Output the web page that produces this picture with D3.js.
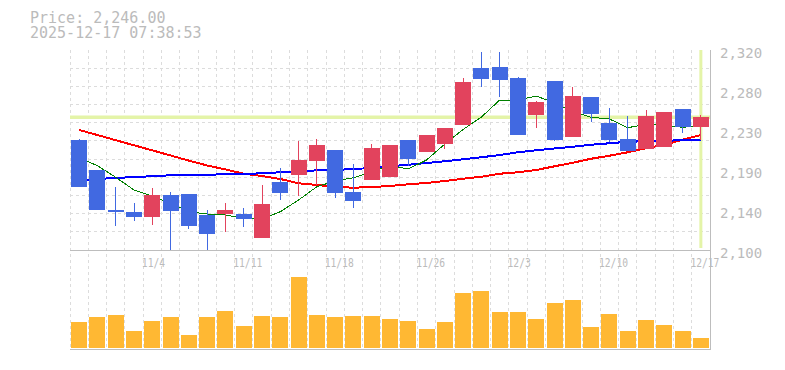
<!DOCTYPE html>
<html>
<head>
<meta charset="utf-8">
<script src="https://cdn.jsdelivr.net/npm/d3@7"></script>
<style>
  body { margin: 0; background: #fff; }
  svg { display: block; }
  .lbl { font-family: "DejaVu Sans Mono", "Liberation Mono", monospace; fill: #bbbbbb; }
</style>
</head>
<body>
<div class="visualization"></div>
<script>
// daily candles, 2025-10-28 .. 2025-12-17
const dates = ["10/28","10/29","10/30","10/31","11/4","11/5","11/6","11/7","11/10","11/11",
  "11/12","11/13","11/14","11/17","11/18","11/19","11/20","11/21","11/25","11/26",
  "11/27","11/28","12/1","12/2","12/3","12/4","12/5","12/8","12/9","12/10",
  "12/11","12/12","12/15","12/16","12/17"];
const opens = [2221,2188,2144,2141.8,2136.6,2160.5,2161.6,2138.5,2139.6,2139.6,
  2112.9,2174.8,2182.5,2197.9,2210,2163.8,2177,2180.3,2221,2207.8,
  2216.6,2237.5,2300.2,2301.3,2289.2,2248.5,2285.9,2224.3,2268.3,2239.7,
  2222.1,2211.4,2213.6,2255.1,2235.3];
const highs = [2222,2188,2169.6,2152,2168.2,2163.8,2161.6,2144,2151.7,2146.2,
  2171.5,2190.2,2219.9,2222.1,2210,2194.6,2216.6,2215.5,2221,2226.5,
  2234.2,2289.5,2318.1,2318.1,2290,2263.9,2285.9,2279.6,2268.3,2256.2,
  2247.4,2254,2251.8,2255.1,2248.5];
const lows = [2169,2144,2126.4,2131.9,2127.5,2100,2123.1,2100,2119.8,2125.3,
  2112.9,2155,2159.4,2171.5,2157.2,2146.2,2177,2180.3,2191.9,2207.8,
  2211.4,2237.5,2279.6,2268,2226.5,2234.2,2219.9,2224.3,2241.1,2219.1,
  2209.2,2211.4,2213.6,2229,2221];
const closes = [2169.6,2144,2141.8,2136.6,2160.5,2142.9,2126.4,2117.6,2144,2134.1,
  2150.6,2162.7,2199,2215.5,2162.7,2153.9,2212.2,2215.5,2200.4,2226.5,
  2234.2,2284.8,2288.4,2287,2226.5,2262.8,2221,2269.4,2249.9,2221.3,
  2209.2,2247.4,2251.8,2235.3,2246];
const volumes = [260,310,330,170,270,310,130,310,370,220,
  320,310,713,330,310,320,320,290,270,190,
  260,550,570,360,360,290,450,480,210,340,
  170,280,230,170,100];
const ma5 = [2201.5,2192.7,2180,2166,2159.4,2151.4,2142.1,2139.6,2138.5,2134.9,
  2134.1,2142.1,2155,2169.6,2175.9,2179.5,2186.1,2193,2189.1,2199,
  2216.6,2232.6,2246.3,2265,2265,2269.4,2261.7,2252.1,2246,2244.1,
  2234.5,2238.3,2237.5,2235,2236.4];
const ma25 = [2175.1,2178.1,2179.2,2180.3,2181.1,2182.2,2182.8,2182.8,2183.3,2183.6,
  2184.4,2185.5,2186.1,2187.7,2188,2189.1,2190.2,2192.1,2193.8,2195.7,
  2197.6,2199.8,2202,2204.5,2207.5,2209.7,2211.7,2213.6,2215.8,2217.4,
  2219.1,2219.6,2220.2,2220.7,2220.7];
const ma75 = [2232,2226.5,2220.8,2215.2,2209.6,2204,2198.3,2193,2188.6,2183.9,
  2181.4,2178.1,2173.4,2171.5,2169.6,2168.5,2169.3,2170.4,2172.3,2173.7,
  2175.9,2178.4,2180.6,2183.9,2185.5,2188,2192.1,2196,2200.4,2203.7,
  2207.5,2211.9,2215.8,2221.3,2226.5];
const yTickValues = [2100,2144,2188,2232,2276,2320];
const yTickLabels = ["2,100","2,140","2,190","2,230","2,280","2,320"];
const xTickDates = ["11/4","11/11","11/18","11/26","12/3","12/10","12/17"];
const lastPrice = "2,246.00";
const stamp = "2025-12-17 07:38:53";

const canvaswidth = 785;
const canvasheight = 370;
const left = 70, right = 710;
const ptop = 50, pbottom = 250;
const vtop = 258, vbottom = 348;
const upcolor = "#e2435d";
const downcolor = "#4169e1";
const gridcolor = "#dcdcdc";
const axiscolor = "#bdbdbd";
const markcolor = "#e4f4a8";

var svgCanvas = d3.select(".visualization").
append("svg").
attr("width", canvaswidth).
attr("height", canvasheight);

var xscale = d3.scaleBand().domain(dates).range([left, right]).
paddingInner(0.125).paddingOuter(0.0625);
var step = xscale.step();
var cx = d => xscale(d) + xscale.bandwidth() / 2;

var yscale = d3.scaleLinear().domain([2100, 2320]).range([pbottom, ptop]);
var vscale = d3.scaleLinear().domain([0, 900]).range([vbottom, vtop]);

// title
svgCanvas.append("text").attr("class", "lbl").attr("x", 30).attr("y", 23).
style("font-size", "15px").text("Price: " + lastPrice);
svgCanvas.append("text").attr("class", "lbl").attr("x", 30).attr("y", 38).
style("font-size", "15px").text(stamp);

// grid
var grid = svgCanvas.append("g").
attr("stroke", gridcolor).attr("stroke-dasharray", "3,3").attr("shape-rendering", "crispEdges");

grid.selectAll("line.h").
data(d3.range(11)).
enter().
append("line").
attr("x1", left).attr("x2", right).
attr("y1", k => yscale(2100 + k * 20)).
attr("y2", k => yscale(2100 + k * 20));

grid.selectAll("line.v").
data(dates).
enter().
append("line").
attr("x1", d => xscale(d) - step * 0.0625).
attr("x2", d => xscale(d) - step * 0.0625).
attr("y1", ptop).attr("y2", vbottom + 2);

// axis lines
var axes = svgCanvas.append("g").attr("stroke", axiscolor).attr("shape-rendering", "crispEdges");
axes.append("line").attr("x1", left).attr("x2", right).attr("y1", pbottom + 0.5).attr("y2", pbottom + 0.5);
axes.append("line").attr("x1", left).attr("x2", right).attr("y1", vbottom + 1.5).attr("y2", vbottom + 1.5);
axes.append("line").attr("x1", right).attr("x2", right).attr("y1", ptop).attr("y2", vbottom + 2);

// current price markers
var lastDate = dates[dates.length - 1];
svgCanvas.append("line").
attr("x1", left).attr("x2", right).
attr("y1", yscale(closes[closes.length - 1])).attr("y2", yscale(closes[closes.length - 1])).
attr("stroke", markcolor).attr("stroke-width", 3.3);
svgCanvas.append("line").
attr("x1", cx(lastDate)).attr("x2", cx(lastDate)).
attr("y1", ptop).attr("y2", pbottom - 2).
attr("stroke", markcolor).attr("stroke-width", 3);

// moving averages
var maline = d3.line().x((d, i) => cx(dates[i])).y(d => yscale(d));
[[ma75, "#ff0000", 2], [ma25, "#0000ff", 2], [ma5, "#008000", 1]].forEach(function (m) {
  svgCanvas.append("path").
  attr("d", maline(m[0])).
  attr("fill", "none").
  attr("stroke", m[1]).
  attr("stroke-width", m[2]).
  attr("shape-rendering", "crispEdges");
});

// candles
var candles = svgCanvas.append("g").attr("shape-rendering", "crispEdges");
candles.selectAll("line").
data(dates).
enter().
append("line").
attr("x1", d => cx(d)).attr("x2", d => cx(d)).
attr("y1", (d, i) => yscale(highs[i])).
attr("y2", (d, i) => yscale(lows[i])).
attr("stroke", (d, i) => closes[i] >= opens[i] ? upcolor : downcolor).
attr("stroke-width", 1);

candles.selectAll("rect").
data(dates).
enter().
append("rect").
attr("x", d => xscale(d)).
attr("width", xscale.bandwidth()).
attr("y", (d, i) => yscale(Math.max(opens[i], closes[i]))).
attr("height", (d, i) => Math.max(1, Math.abs(yscale(opens[i]) - yscale(closes[i])))).
attr("fill", (d, i) => closes[i] >= opens[i] ? upcolor : downcolor);

// volume
svgCanvas.append("g").
attr("shape-rendering", "crispEdges").
selectAll("rect").
data(volumes).
enter().
append("rect").
attr("x", (d, i) => xscale(dates[i])).
attr("width", xscale.bandwidth()).
attr("y", d => vscale(d)).
attr("height", d => vbottom - vscale(d)).
attr("fill", "#ffb833");

// y tick labels
svgCanvas.selectAll("text.ytick").
data(yTickValues).
enter().
append("text").
attr("class", "lbl ytick").
attr("x", 720).
attr("y", d => yscale(d) + 8).
style("font-size", "14px").
text((d, i) => yTickLabels[i]);

// x tick labels
svgCanvas.selectAll("text.xtick").
data(xTickDates).
enter().
append("text").
attr("class", "lbl xtick").
attr("x", d => xscale(d) - step * 0.0625 - 1.3).
attr("y", 266.5).
attr("textLength", d => d.length * 5.8).
attr("lengthAdjust", "spacingAndGlyphs").
style("font-size", "13px").
text(d => d);
</script>
</body>
</html>
